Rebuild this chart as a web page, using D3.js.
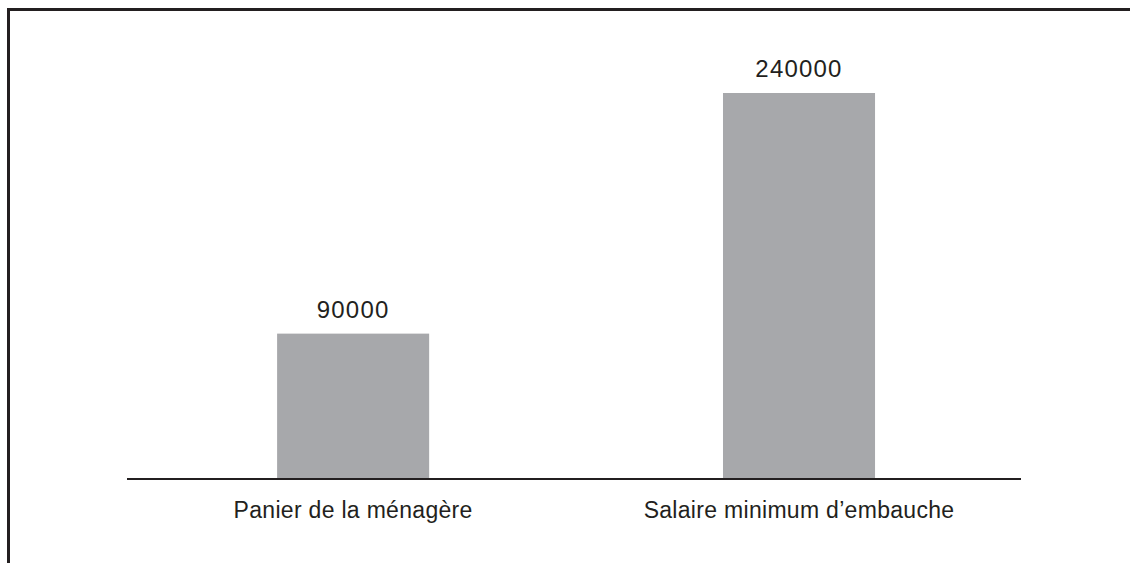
<!DOCTYPE html>
<meta charset="utf-8">
<style>
body{
    margin:0;
    background:#fff;
}
.bar{
    fill:#a7a8ab;
}
.frame, .baseline{
    stroke:#231f20;
    fill:none;
}
text{
    font-family:"Liberation Sans", Arial, sans-serif;
    fill:#231f20;
    text-anchor:middle;
}
</style>
<body>
<script src="https://cdn.jsdelivr.net/npm/d3@7"></script>
<script>
var categories = ["Panier de la ménagère", "Salaire minimum d\u2019embauche"];
var values = [90000, 240000];
var valueLabels = ["90000", "240000"];

var svgW = 1130, svgH = 563;
var svg = d3.select("body").append("svg").attr("width", svgW).attr("height", svgH);

// frame: top and left edges only
svg.append("path").attr("class", "frame")
    .attr("stroke-width", 3)
    .attr("d", "M8.5," + svgH + "V9.5H" + svgW);

var x = d3.scaleBand().domain(categories).range([127, 1021])
    .paddingInner(0.659).paddingOuter(0.332).align(0.507);
var y = d3.scaleLinear().domain([0, 240000]).range([478, 93]);

svg.selectAll(".bar").data(values).enter().append("rect")
    .attr("class", "bar")
    .attr("x", function(d, i){ return x(categories[i]); })
    .attr("width", x.bandwidth())
    .attr("y", function(d){ return y(d); })
    .attr("height", function(d){ return y(0) - y(d); });

svg.append("line").attr("class", "baseline")
    .attr("stroke-width", 2)
    .attr("x1", 127).attr("x2", 1021)
    .attr("y1", y(0) + 1).attr("y2", y(0) + 1);

svg.selectAll(".vlabel").data(values).enter().append("text")
    .attr("class", "vlabel")
    .attr("x", function(d, i){ return x(categories[i]) + x.bandwidth() / 2; })
    .attr("y", function(d){ return y(d) - 16; })
    .style("font-size", "24px")
    .style("letter-spacing", "1.2px")
    .text(function(d, i){ return valueLabels[i]; });

svg.selectAll(".clabel").data(categories).enter().append("text")
    .attr("class", "clabel")
    .attr("x", function(d){ return x(d) + x.bandwidth() / 2; })
    .attr("y", 518)
    .style("font-size", "23px")
    .style("letter-spacing", "0.3px")
    .text(function(d){ return d; });
</script>
